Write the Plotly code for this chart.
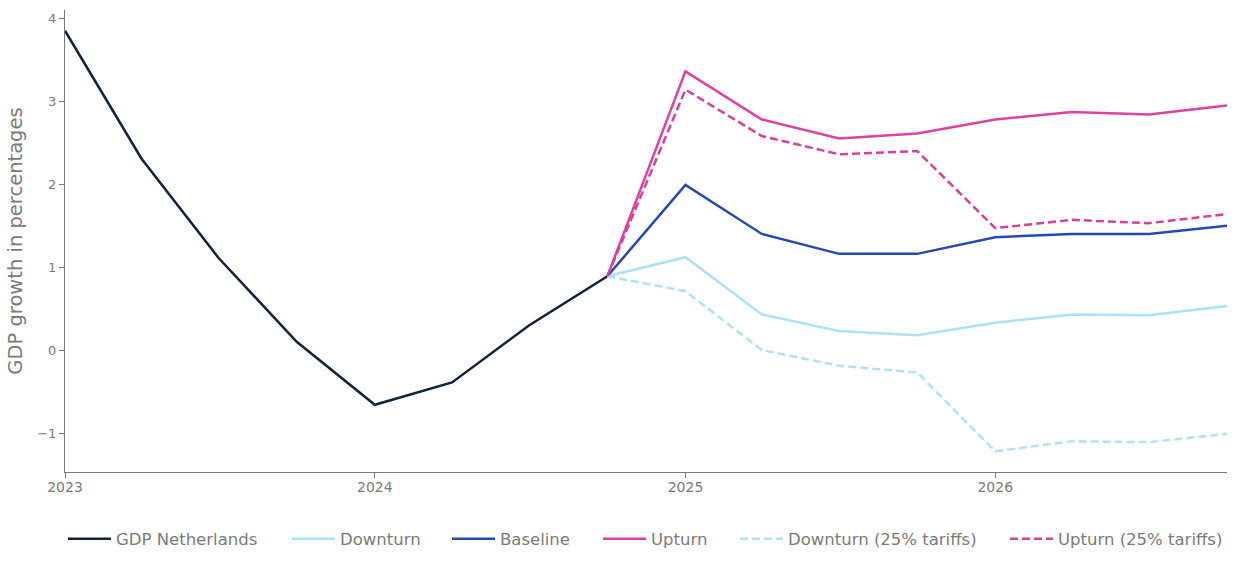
import plotly.graph_objects as go

hist_dates = ["2023-01-01", "2023-04-01", "2023-07-01", "2023-10-01",
              "2024-01-01", "2024-04-01", "2024-07-01", "2024-10-01"]
gdp_nl = [3.85, 2.31, 1.11, 0.10, -0.66, -0.39, 0.30, 0.89]

fc_dates = ["2024-10-01", "2025-01-01", "2025-04-01", "2025-07-01", "2025-10-01",
            "2026-01-01", "2026-04-01", "2026-07-01", "2026-10-01"]
downturn = [0.89, 1.12, 0.43, 0.23, 0.18, 0.33, 0.43, 0.42, 0.53]
baseline = [0.89, 1.99, 1.40, 1.16, 1.16, 1.36, 1.40, 1.40, 1.50]
upturn = [0.89, 3.36, 2.78, 2.55, 2.61, 2.78, 2.87, 2.84, 2.95]
downturn_tariffs = [0.89, 0.71, 0.00, -0.19, -0.27, -1.22, -1.10, -1.11, -1.01]
upturn_tariffs = [0.89, 3.14, 2.58, 2.36, 2.40, 1.47, 1.57, 1.53, 1.64]

series = [
    ("GDP Netherlands", hist_dates, gdp_nl, "#11233a", "solid"),
    ("Downturn", fc_dates, downturn, "#a9e3f5", "solid"),
    ("Baseline", fc_dates, baseline, "#2747b5", "solid"),
    ("Upturn", fc_dates, upturn, "#e040a0", "solid"),
    ("Downturn (25% tariffs)", fc_dates, downturn_tariffs, "#b0e3f2", "8px,4px"),
    ("Upturn (25% tariffs)", fc_dates, upturn_tariffs, "#d8409a", "8px,4px"),
]
legend_px = [68, 292, 452, 603, 740, 1010]

L, R, T, B = 65, 12, 10, 94
W, H = 1239, 566
pw = W - L - R
ph = H - T - B
axis_color = "#7a7a7a"

fig = go.Figure()
layout_legends = {}
for i, (name, xs, ys, color, dash) in enumerate(series):
    key = "legend" if i == 0 else f"legend{i + 1}"
    fig.add_trace(go.Scatter(x=xs, y=ys, mode="lines", name=name, legend=key,
                             line=dict(color=color, width=2.5, dash=dash)))
    layout_legends[key] = dict(
        x=(legend_px[i] - 5 - L) / pw, xanchor="left",
        y=(H - B - 539) / ph, yanchor="middle",
        orientation="h", itemwidth=43, bgcolor="rgba(0,0,0,0)",
        font=dict(size=16.5, color=axis_color),
    )

fig.update_layout(
    width=W, height=H,
    margin=dict(l=L, r=R, t=T, b=B),
    paper_bgcolor="white", plot_bgcolor="white",
    font=dict(family="DejaVu Sans", color=axis_color),
    showlegend=True,
    xaxis=dict(range=["2023-01-01", "2026-10-01"], tickvals=["2023-01-01", "2024-01-01", "2025-01-01", "2026-01-01"],
               ticktext=["2023", "2024", "2025", "2026"], showgrid=False, zeroline=False,
               showline=True, linecolor=axis_color, linewidth=1, ticks="outside", ticklen=5,
               tickcolor=axis_color, tickfont=dict(size=14, color=axis_color), ticklabelstandoff=-3),
    yaxis=dict(range=[-1.47, 4.1], tickvals=[-1, 0, 1, 2, 3, 4], ticktext=["\u22121", "0", "1", "2", "3", "4"],
               showgrid=False, zeroline=False, showline=True, linecolor=axis_color, linewidth=1,
               ticks="outside", ticklen=5, tickcolor=axis_color, tickfont=dict(size=13, color=axis_color),
               title=dict(text="GDP growth in percentages", font=dict(size=19.5, color=axis_color), standoff=9)),
    **layout_legends,
)

fig.write_html("out.html")
